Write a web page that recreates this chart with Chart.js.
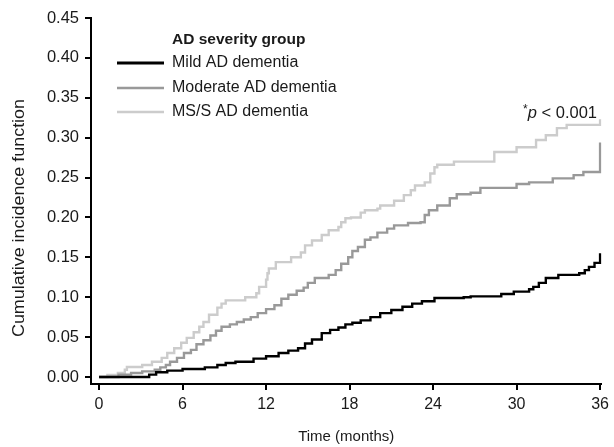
<!DOCTYPE html>
<html>
<head>
<meta charset="utf-8">
<script src="https://cdn.jsdelivr.net/npm/chart.js@4"></script>
<style>
  html, body { margin: 0; padding: 0; background: #fff; }
  canvas { display: block; }
</style>
</head>
<body>
<canvas id="c" width="614" height="447"></canvas>
<script>
// ---- data ----
const seriesNames = ['Mild AD dementia', 'Moderate AD dementia', 'MS/S AD dementia'];
const legendTitle = 'AD severity group';
const xTicks = [0, 6, 12, 18, 24, 30, 36];
const yTicks = [0.00, 0.05, 0.10, 0.15, 0.20, 0.25, 0.30, 0.35, 0.40, 0.45];

const mildT = [0, 3.6, 4.1, 4.9, 6.0, 7.6, 8.5, 9.1, 9.8, 11.1, 12.0, 12.9, 13.6, 14.3, 14.8, 15.3, 16.0, 16.6, 17.2, 17.7, 18.2, 18.8, 19.5, 20.2, 21.0, 21.8, 22.5, 23.2, 24.1, 26.2, 26.7, 28.9, 29.8, 30.9, 31.2, 31.6, 32.1, 33.0, 34.5, 34.9, 35.2, 35.6, 36.0];
const mildV = [0, 0.003, 0.006, 0.008, 0.010, 0.012, 0.015, 0.0175, 0.019, 0.023, 0.026, 0.030, 0.033, 0.036, 0.042, 0.047, 0.055, 0.059, 0.062, 0.066, 0.068, 0.071, 0.075, 0.080, 0.084, 0.088, 0.092, 0.095, 0.099, 0.100, 0.101, 0.104, 0.107, 0.110, 0.113, 0.118, 0.124, 0.128, 0.130, 0.134, 0.138, 0.143, 0.155];

const modT = [0, 1.4, 2.3, 3.1, 4.0, 4.4, 4.8, 5.1, 5.6, 6.1, 6.6, 7.0, 7.5, 8.0, 8.4, 8.8, 9.4, 9.9, 10.4, 10.9, 11.4, 12.0, 12.6, 13.1, 13.6, 14.2, 14.7, 15.0, 15.5, 16.5, 17.0, 17.4, 17.9, 18.2, 18.6, 19.1, 19.5, 20.0, 20.7, 21.2, 22.2, 23.1, 23.4, 23.7, 24.3, 25.2, 25.7, 26.7, 27.4, 30.0, 30.9, 32.6, 34.1, 34.8, 36.0];
const modV = [0, 0.003, 0.005, 0.007, 0.009, 0.012, 0.015, 0.019, 0.024, 0.030, 0.034, 0.041, 0.046, 0.052, 0.058, 0.063, 0.066, 0.069, 0.072, 0.075, 0.080, 0.085, 0.090, 0.098, 0.103, 0.108, 0.112, 0.118, 0.124, 0.128, 0.134, 0.142, 0.150, 0.158, 0.163, 0.172, 0.175, 0.181, 0.186, 0.190, 0.193, 0.194, 0.203, 0.209, 0.215, 0.224, 0.229, 0.231, 0.237, 0.242, 0.244, 0.249, 0.253, 0.257, 0.294];

const mssT = [0, 0.6, 1.35, 1.85, 2.0, 3.1, 3.8, 4.5, 4.9, 5.4, 5.9, 6.3, 6.8, 7.2, 7.5, 7.9, 8.5, 8.8, 9.1, 10.5, 11.3, 11.5, 12.0, 12.1, 12.2, 12.7, 13.8, 14.5, 14.8, 15.3, 16.0, 16.5, 17.2, 17.4, 17.7, 18.1, 18.8, 19.1, 20.0, 20.2, 21.2, 21.9, 22.4, 22.7, 23.4, 23.8, 24.1, 24.3, 25.5, 28.4, 30.0, 31.4, 32.1, 32.9, 33.6, 36.0];
const mssV = [0, 0.0025, 0.005, 0.009, 0.0125, 0.015, 0.019, 0.024, 0.030, 0.036, 0.043, 0.049, 0.056, 0.063, 0.069, 0.078, 0.087, 0.092, 0.096, 0.100, 0.105, 0.113, 0.122, 0.130, 0.136, 0.144, 0.150, 0.156, 0.165, 0.171, 0.178, 0.184, 0.188, 0.194, 0.199, 0.200, 0.206, 0.209, 0.211, 0.215, 0.221, 0.228, 0.234, 0.240, 0.244, 0.255, 0.263, 0.266, 0.270, 0.282, 0.288, 0.297, 0.303, 0.312, 0.316, 0.323];

const colors = ['#000000', '#999999', '#cccccc'];
const FONT = '"Liberation Sans", Arial, Helvetica, sans-serif';
const TEXT = '#1a1a1a';

function pts(T, V) { return T.map((t, i) => ({ x: t, y: V[i] })); }

const overlay = {
  id: 'overlay',
  afterDraw(chart) {
    const ctx = chart.ctx;
    const area = chart.chartArea;
    ctx.save();
    ctx.fillStyle = TEXT;
    ctx.textBaseline = 'middle';

    // axis titles
    ctx.textAlign = 'center';
    ctx.save();
    ctx.font = '16px ' + FONT;
    ctx.translate(20, 218);
    ctx.rotate(-Math.PI / 2);
    ctx.scale(1.12, 1);
    ctx.fillText('Cumulative incidence function', 0, 0);
    ctx.restore();
    ctx.font = '15px ' + FONT;
    ctx.fillText('Time (months)', (area.left + area.right) / 2, 437);

    // legend
    ctx.textAlign = 'left';
    ctx.font = 'bold 15.5px ' + FONT;
    ctx.fillText(legendTitle, 172, 40);
    ctx.font = '16px ' + FONT;
    const ly = [63, 88, 112];
    const lw = [3, 2.5, 2.5];
    seriesNames.forEach((name, i) => {
      ctx.strokeStyle = colors[i];
      ctx.lineWidth = lw[i];
      ctx.beginPath();
      ctx.moveTo(117, ly[i]);
      ctx.lineTo(164, ly[i]);
      ctx.stroke();
      ctx.fillText(name, 172, ly[i]);
    });

    // p-value annotation
    const right = 597, y = 113;
    ctx.font = '12px ' + FONT;
    const wStar = ctx.measureText('*').width;
    ctx.font = 'italic 16.5px ' + FONT;
    const wP = ctx.measureText('p').width;
    ctx.font = '16.5px ' + FONT;
    const wRest = ctx.measureText(' < 0.001').width;
    let x0 = right - (wStar + wP + wRest);
    ctx.font = '12px ' + FONT;
    ctx.fillText('*', x0, y - 3);
    x0 += wStar;
    ctx.font = 'italic 16.5px ' + FONT;
    ctx.fillText('p', x0, y);
    x0 += wP;
    ctx.font = '16.5px ' + FONT;
    ctx.fillText(' < 0.001', x0, y);
    ctx.restore();
  }
};

new Chart(document.getElementById('c'), {
  type: 'line',
  data: {
    datasets: [
      { label: seriesNames[0], data: pts(mildT, mildV), borderColor: colors[0], borderWidth: 2.4, stepped: true, pointRadius: 0, fill: false },
      { label: seriesNames[1], data: pts(modT, modV), borderColor: colors[1], borderWidth: 2.4, stepped: true, pointRadius: 0, fill: false },
      { label: seriesNames[2], data: pts(mssT, mssV), borderColor: colors[2], borderWidth: 2.4, stepped: true, pointRadius: 0, fill: false }
    ]
  },
  options: {
    responsive: false,
    animation: false,
    devicePixelRatio: 1,
    layout: { padding: { top: 18, right: 8, left: 0, bottom: 0 } },
    plugins: { legend: { display: false }, tooltip: { enabled: false } },
    scales: {
      x: {
        type: 'linear',
        min: -0.58,
        max: 36.1,
        afterBuildTicks: s => { s.ticks = xTicks.map(v => ({ value: v })); },
        afterFit: s => { s.height = 63; },
        ticks: { font: { size: 16, family: FONT }, color: TEXT, padding: 5, maxRotation: 0, autoSkip: false, callback: v => String(v) },
        grid: { drawOnChartArea: false, drawTicks: true, tickLength: 6, color: '#000', lineWidth: 2 },
        border: { display: true, color: '#000', width: 2 }
      },
      y: {
        type: 'linear',
        min: -0.0088,
        max: 0.45,
        afterBuildTicks: s => { s.ticks = yTicks.map(v => ({ value: v })); },
        afterFit: s => { s.width = 91; },
        ticks: { font: { size: 16.5, family: FONT }, color: TEXT, padding: 6, autoSkip: false, callback: v => v.toFixed(2) },
        grid: { drawOnChartArea: false, drawTicks: true, tickLength: 6, color: '#000', lineWidth: 2 },
        border: { display: true, color: '#000', width: 2 }
      }
    }
  },
  plugins: [overlay]
});
</script>
</body>
</html>
